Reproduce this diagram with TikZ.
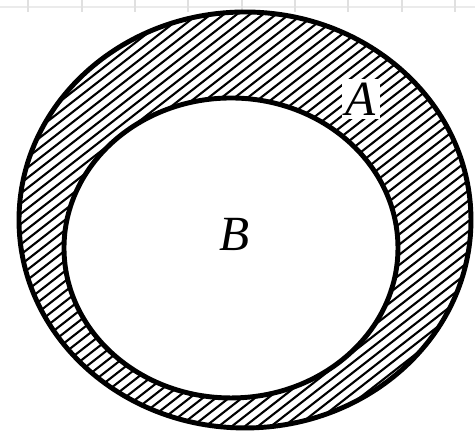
\documentclass[tikz,border=0pt]{standalone}
\usepackage{fontspec}
\setmainfont{Liberation Serif}
\usepackage{tikz}

\tikzset{
  ringline/.style={line width=1.4pt},
  hatchline/.style={line width=0.6pt},
  setlabel/.style={font=\fontsize{14}{16}\selectfont\itshape, inner sep=1pt}
}

\begin{document}
\begin{tikzpicture}
\useasboundingbox (0,0) rectangle (4.75,4.34);
% faint ruler strip along the top
\draw[black!8, line width=0.6pt] (0,4.27) -- (4.75,4.27);
\foreach \x in {0.28,0.82,1.35,1.88,2.42,2.95,3.48,4.02,4.55}
  \draw[black!12, line width=0.5pt] (\x,4.34) -- (\x,4.22);
% hatched ring between the two sets
\begin{scope}[even odd rule]
  \clip (2.45,2.14) ellipse [x radius=2.26, y radius=2.08]
        (2.31,1.86) ellipse [x radius=1.67, y radius=1.50];
  \foreach \i in {-45,...,45}
    \draw[hatchline] (0,\i*0.102) -- ++(4.75,3.71);
\end{scope}
\draw[ringline] (2.45,2.14) ellipse [x radius=2.26, y radius=2.08];
\draw[ringline] (2.31,1.86) ellipse [x radius=1.67, y radius=1.50];
\node[setlabel, fill=white] (setA) at (3.61,3.35) {A};
\node[setlabel] (setB) at (2.35,2.00) {B};
\end{tikzpicture}
\end{document}
